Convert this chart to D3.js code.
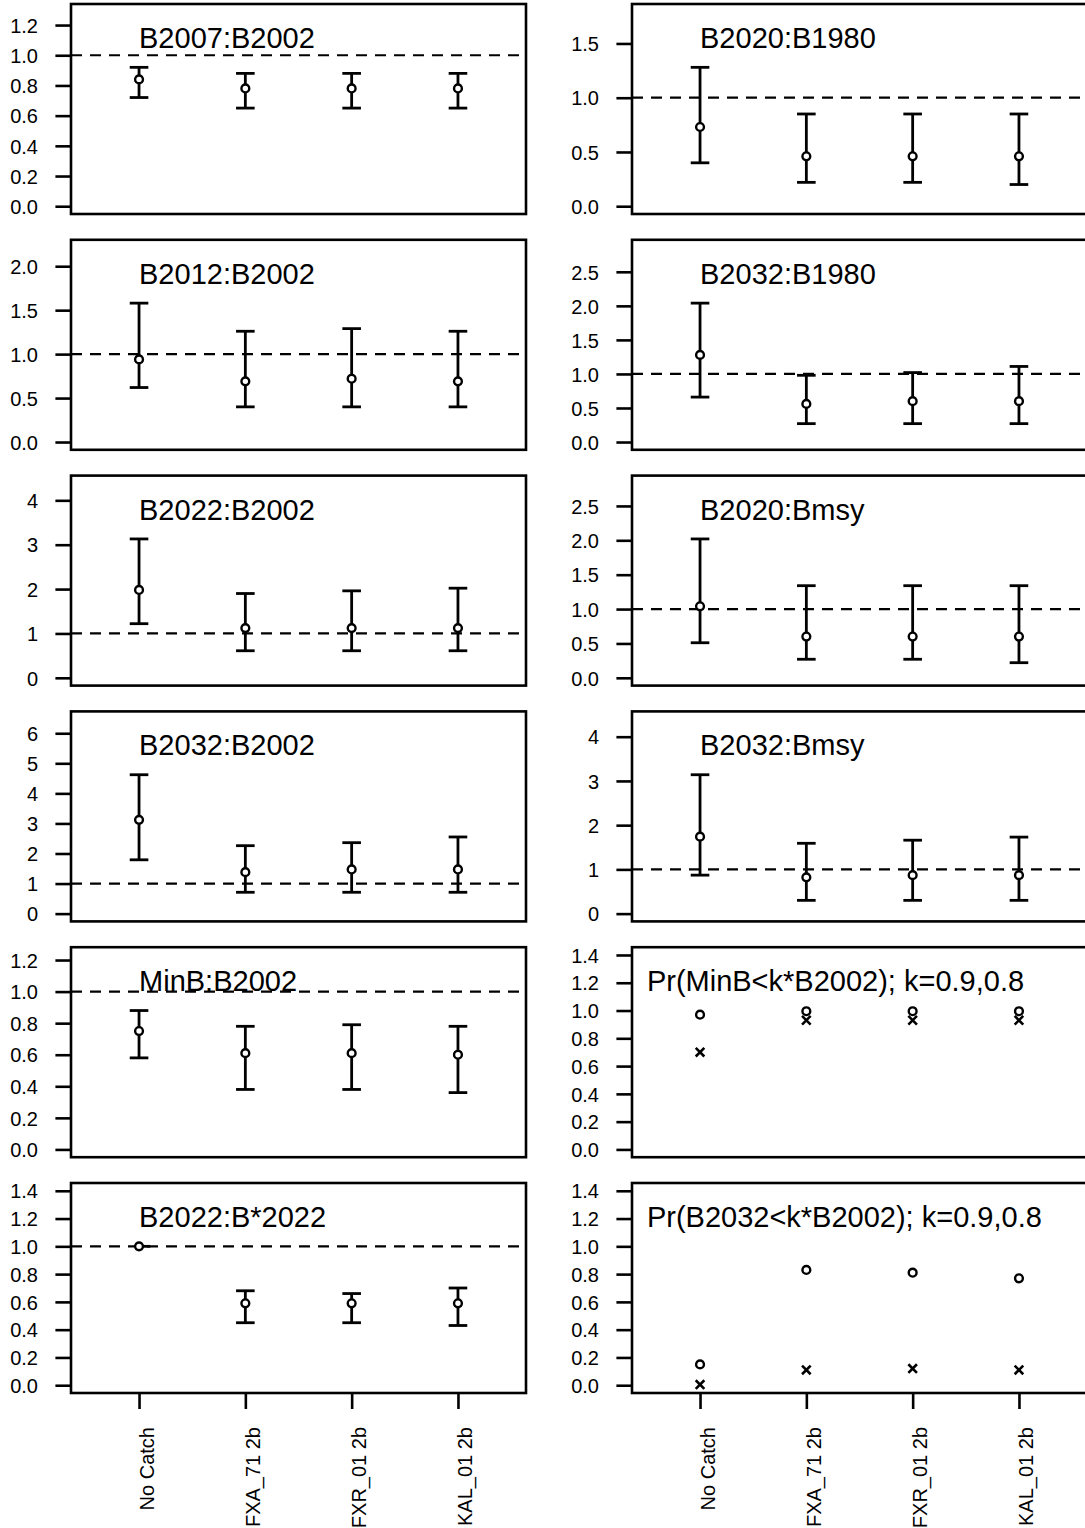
<!DOCTYPE html>
<html>
<head>
<meta charset="utf-8">
<script src="https://cdn.jsdelivr.net/npm/d3@7"></script>
<style>
  html, body { margin: 0; padding: 0; background: #fff; }
  svg { display: block; }
</style>
</head>
<body>
<svg id="chart" width="1085" height="1528"></svg>
<script>
// Harvest strategies compared in every panel
const categories = ["No Catch", "FXA_71 2b", "FXR_01 2b", "KAL_01 2b"];

// Biomass ratio panels: median with lower / upper interval per strategy
const ratioTitles = [
  "B2007:B2002", "B2020:B1980", "B2012:B2002", "B2032:B1980", "B2022:B2002",
  "B2020:Bmsy", "B2032:B2002", "B2032:Bmsy", "MinB:B2002", "B2022:B*2022"
];
const ratioMedian = [
  [0.84, 0.78, 0.78, 0.78],
  [0.73, 0.46, 0.46, 0.46],
  [0.94, 0.69, 0.72, 0.69],
  [1.28, 0.56, 0.60, 0.60],
  [1.98, 1.12, 1.12, 1.12],
  [1.04, 0.60, 0.60, 0.60],
  [3.12, 1.38, 1.47, 1.47],
  [1.74, 0.82, 0.87, 0.87],
  [0.75, 0.61, 0.61, 0.60],
  [1.00, 0.59, 0.59, 0.59]
];
const ratioLower = [
  [0.72, 0.65, 0.65, 0.65],
  [0.40, 0.22, 0.22, 0.20],
  [0.62, 0.40, 0.40, 0.40],
  [0.66, 0.27, 0.27, 0.27],
  [1.22, 0.61, 0.61, 0.61],
  [0.51, 0.27, 0.27, 0.22],
  [1.79, 0.71, 0.71, 0.71],
  [0.87, 0.30, 0.30, 0.30],
  [0.58, 0.38, 0.38, 0.36],
  [1.00, 0.45, 0.45, 0.43]
];
const ratioUpper = [
  [0.92, 0.88, 0.88, 0.88],
  [1.28, 0.85, 0.85, 0.85],
  [1.58, 1.26, 1.29, 1.26],
  [2.04, 0.98, 1.02, 1.11],
  [3.13, 1.90, 1.96, 2.02],
  [2.02, 1.34, 1.34, 1.34],
  [4.62, 2.26, 2.36, 2.55],
  [3.14, 1.59, 1.66, 1.73],
  [0.88, 0.78, 0.79, 0.78],
  [1.00, 0.68, 0.66, 0.70]
];
const ratioTicks = [
  [0, 0.2, 0.4, 0.6, 0.8, 1.0, 1.2],
  [0, 0.5, 1.0, 1.5],
  [0, 0.5, 1.0, 1.5, 2.0],
  [0, 0.5, 1.0, 1.5, 2.0, 2.5],
  [0, 1, 2, 3, 4],
  [0, 0.5, 1.0, 1.5, 2.0, 2.5],
  [0, 1, 2, 3, 4, 5, 6],
  [0, 1, 2, 3, 4],
  [0, 0.2, 0.4, 0.6, 0.8, 1.0, 1.2],
  [0, 0.2, 0.4, 0.6, 0.8, 1.0, 1.2, 1.4]
];

// Probability panels: k = 0.9 (circles) and k = 0.8 (crosses)
const probTitles = ["Pr(MinB<k*B2002); k=0.9,0.8", "Pr(B2032<k*B2002); k=0.9,0.8"];
const probK09 = [
  [0.97, 0.995, 0.995, 0.995],
  [0.15, 0.83, 0.81, 0.77]
];
const probK08 = [
  [0.70, 0.93, 0.93, 0.93],
  [0.005, 0.11, 0.12, 0.11]
];
const probTicks = [0, 0.2, 0.4, 0.6, 0.8, 1.0, 1.2, 1.4];

// Grid order (filled by row, two columns)
const panelOrder = [
  ["ratio", 0], ["ratio", 1], ["ratio", 2], ["ratio", 3], ["ratio", 4], ["ratio", 5],
  ["ratio", 6], ["ratio", 7], ["ratio", 8], ["prob", 0], ["ratio", 9], ["prob", 1]
];

// ---- layout ----
const FONT = "'Liberation Sans', Arial, Helvetica, sans-serif";
const colX = [71, 632];
const rowTop = 4, rowStep = 235.8;
const boxW = 455, boxH = 210;
const lw = 2.6;
const capHalf = 9.3;
const nRows = panelOrder.length / 2;

const svg = d3.select("#chart");
svg.append("rect").attr("width", 1085).attr("height", 1528).attr("fill", "#fff");

panelOrder.forEach(([kind, k], idx) => {
  const col = idx % 2, row = Math.floor(idx / 2);
  const g = svg.append("g")
    .attr("transform", `translate(${colX[col]},${rowTop + row * rowStep})`);

  const x = d3.scaleLinear().domain([0.36, 4.64]).range([0, boxW]);
  const yMax = kind === "ratio" ? 1.4 * d3.max(ratioUpper[k]) : 1.4;
  const pad = 0.04 * yMax;
  const y = d3.scaleLinear().domain([-pad, yMax + pad]).range([boxH, 0]);
  const ticks = kind === "ratio" ? ratioTicks[k] : probTicks;
  const fmt = ticks.every(Number.isInteger) ? d3.format("d") : d3.format(".1f");

  if (kind === "ratio") {
    // reference line at ratio 1
    g.append("line")
      .attr("x1", 0).attr("x2", boxW)
      .attr("y1", y(1)).attr("y2", y(1))
      .attr("stroke", "#000").attr("stroke-width", 2.2)
      .attr("stroke-dasharray", "11,8");

    g.append("text")
      .attr("x", x(1)).attr("y", 44)
      .attr("font-family", FONT).attr("font-size", 29)
      .attr("fill", "#000")
      .text(ratioTitles[k]);

    const rows = categories.map((c, i) => ({
      i: i + 1, med: ratioMedian[k][i], lo: ratioLower[k][i], hi: ratioUpper[k][i]
    }));

    const bars = g.append("g").attr("stroke", "#000").attr("stroke-width", 2.8).attr("fill", "none");
    rows.forEach(d => {
      const cx = x(d.i);
      if (d.hi - d.lo < 1e-9) {
        bars.append("line")
          .attr("x1", cx).attr("x2", cx + capHalf + 2)
          .attr("y1", y(d.med)).attr("y2", y(d.med));
        return;
      }
      bars.append("line").attr("x1", cx).attr("x2", cx).attr("y1", y(d.lo)).attr("y2", y(d.hi));
      bars.append("line").attr("x1", cx - capHalf).attr("x2", cx + capHalf).attr("y1", y(d.lo)).attr("y2", y(d.lo));
      bars.append("line").attr("x1", cx - capHalf).attr("x2", cx + capHalf).attr("y1", y(d.hi)).attr("y2", y(d.hi));
    });

    g.append("g").selectAll("circle").data(rows).join("circle")
      .attr("cx", d => x(d.i)).attr("cy", d => y(d.med)).attr("r", 3.9)
      .attr("fill", "#fff").attr("stroke", "#000").attr("stroke-width", 2.4);
  } else {
    g.append("text")
      .attr("x", x(0.5)).attr("y", 44)
      .attr("font-family", FONT).attr("font-size", 29)
      .attr("fill", "#000")
      .text(probTitles[k]);

    const circ = categories.map((c, i) => ({ i: i + 1, v: probK09[k][i] }));
    const cross = categories.map((c, i) => ({ i: i + 1, v: probK08[k][i] }));
    const s = 4.3;

    g.append("g").selectAll("path").data(cross).join("path")
      .attr("d", d => {
        const cx = x(d.i), cy = y(d.v);
        return `M${cx - s},${cy - s}L${cx + s},${cy + s}M${cx - s},${cy + s}L${cx + s},${cy - s}`;
      })
      .attr("stroke", "#000").attr("stroke-width", 2.6).attr("fill", "none");

    g.append("g").selectAll("circle").data(circ).join("circle")
      .attr("cx", d => x(d.i)).attr("cy", d => y(d.v)).attr("r", 3.9)
      .attr("fill", "none").attr("stroke", "#000").attr("stroke-width", 2.4);
  }

  // y axis
  const ya = g.append("g").call(
    d3.axisLeft(y).tickValues(ticks).tickSize(15.6).tickPadding(17.4).tickFormat(fmt)
  );
  ya.select(".domain").remove();
  ya.selectAll("line").attr("stroke", "#000").attr("stroke-width", lw);
  ya.selectAll("text")
    .attr("font-family", FONT).attr("font-size", 20).attr("fill", "#000")
    .attr("dy", "0.36em");

  // x axis only under the bottom row
  if (row === nRows - 1) {
    const xa = g.append("g").attr("transform", `translate(0,${boxH})`).call(
      d3.axisBottom(x).tickValues([1, 2, 3, 4]).tickSize(16).tickFormat(v => categories[v - 1])
    );
    xa.select(".domain").remove();
    xa.selectAll("line").attr("stroke", "#000").attr("stroke-width", lw);
    xa.selectAll("text")
      .attr("font-family", FONT).attr("font-size", 20).attr("fill", "#000")
      .attr("x", 0).attr("y", 0).attr("dy", 0)
      .attr("text-anchor", "end")
      .attr("transform", "translate(14,34) rotate(-90)");
  }

  // plot frame
  g.append("rect")
    .attr("x", 0).attr("y", 0).attr("width", boxW).attr("height", boxH)
    .attr("fill", "none").attr("stroke", "#000").attr("stroke-width", lw);
});
</script>
</body>
</html>
